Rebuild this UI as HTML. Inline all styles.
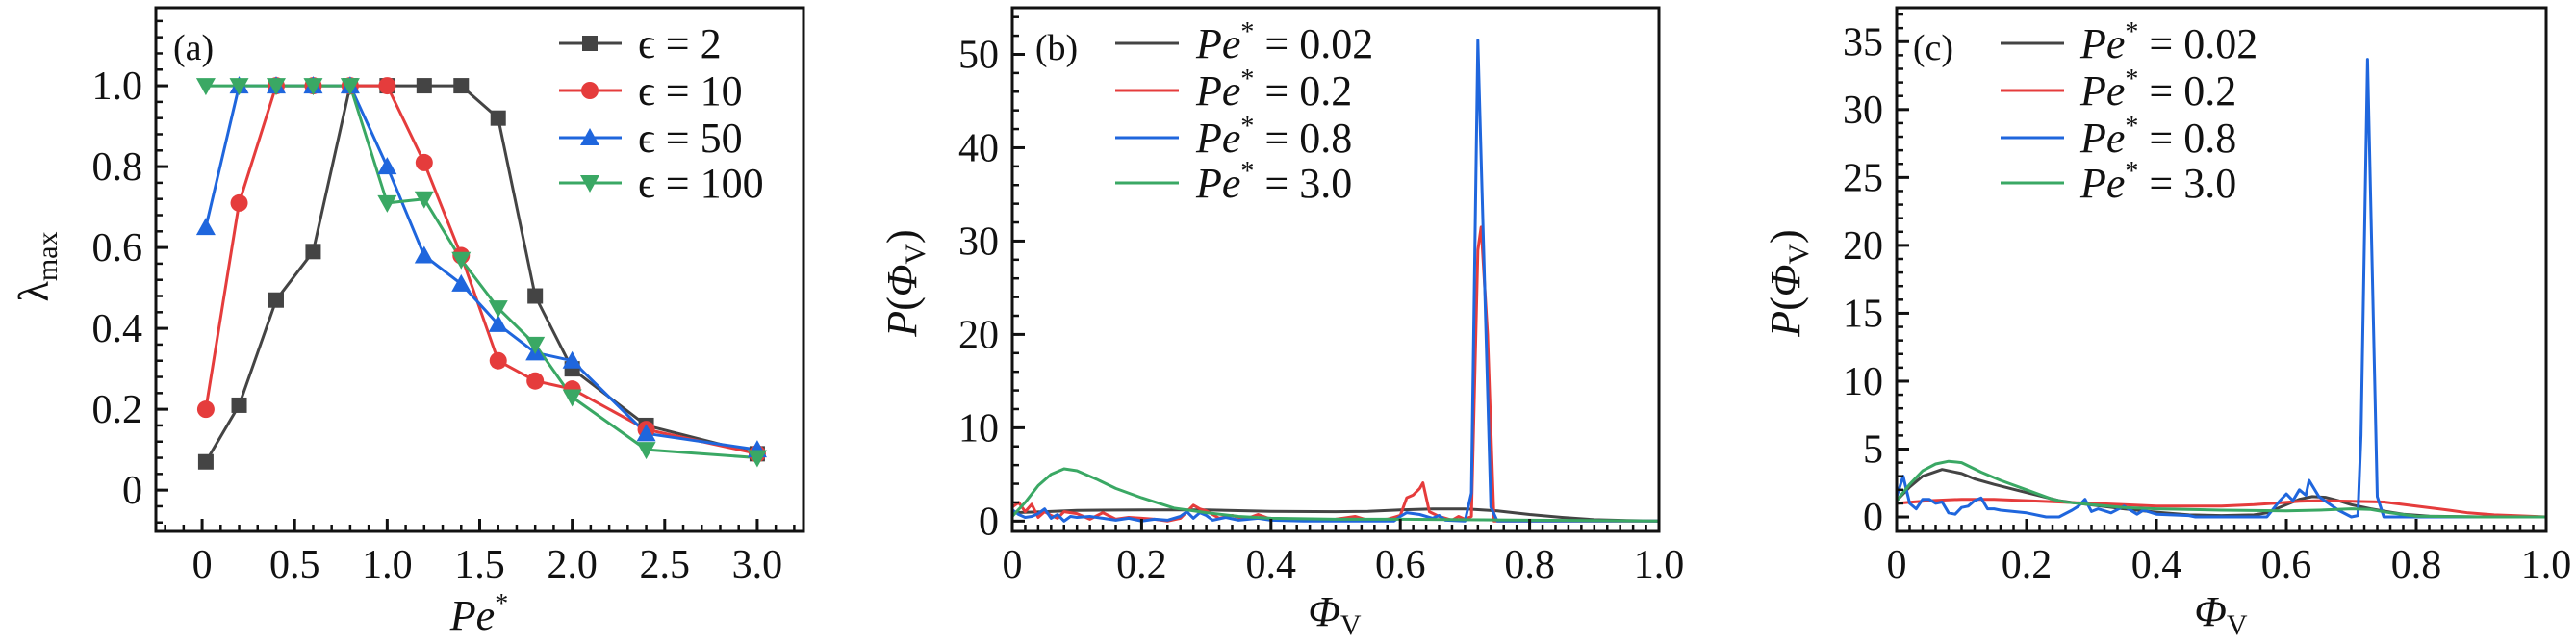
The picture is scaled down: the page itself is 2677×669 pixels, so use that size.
<!DOCTYPE html>
<html><head><meta charset="utf-8"><style>
html,body{margin:0;padding:0;background:#fff}
svg{display:block}
text{font-family:"Liberation Serif","DejaVu Serif",serif;fill:#111}
</style></head><body>
<svg id="fig" width="2677" height="669" viewBox="0 0 2677 669" xmlns="http://www.w3.org/2000/svg"></svg>
<script>
// ---------- Panel (a) data ----------
const aX = [0.02,0.2,0.4,0.6,0.8,1.0,1.2,1.4,1.6,1.8,2.0,2.4,3.0];
const aEps2 = [0.07,0.21,0.47,0.59,1.0,1.0,1.0,1.0,0.92,0.48,0.30,0.16,0.09];
const aEps10 = [0.20,0.71,1.0,1.0,1.0,1.0,0.81,0.58,0.32,0.27,0.25,0.15,0.09];
const aEps50 = [0.65,1.0,1.0,1.0,1.0,0.80,0.58,0.51,0.41,0.34,0.32,0.14,0.10];
const aEps100 = [1.0,1.0,1.0,1.0,1.0,0.71,0.72,0.57,0.45,0.36,0.23,0.10,0.08];
const aXTicks = [0,0.5,1.0,1.5,2.0,2.5,3.0];
const aXTickLabels = ["0","0.5","1.0","1.5","2.0","2.5","3.0"];
const aYTicks = [0,0.2,0.4,0.6,0.8,1.0];
const aYTickLabels = ["0","0.2","0.4","0.6","0.8","1.0"];
const aLegend = ["2","10","50","100"];

// ---------- Panel (b) data ----------
const bGrayX = [0,0.05,0.1,0.2,0.3,0.4,0.5,0.55,0.6,0.65,0.7,0.75,0.8,0.85,0.9,0.95,1.0];
const bGrayY = [0.9,1.0,1.15,1.2,1.2,1.05,1.0,1.05,1.2,1.3,1.3,1.1,0.7,0.4,0.15,0.05,0];
const bGreenX = [0,0.02,0.04,0.06,0.08,0.1,0.13,0.16,0.2,0.25,0.3,0.35,0.4,0.5,0.6,0.7,0.8,0.9,1.0];
const bGreenY = [0.5,2.0,3.8,5.0,5.6,5.4,4.5,3.5,2.5,1.4,0.9,0.5,0.3,0.2,0.2,0.15,0.1,0.05,0];
const bRedX = [0,0.01,0.02,0.03,0.04,0.05,0.06,0.07,0.08,0.1,0.12,0.14,0.16,0.18,0.2,0.22,0.24,0.26,0.28,0.29,0.3,0.32,0.34,0.36,0.38,0.4,0.45,0.5,0.53,0.55,0.58,0.6,0.61,0.62,0.63,0.635,0.645,0.66,0.68,0.69,0.7,0.71,0.72,0.725,0.735,0.745,0.76,0.8,0.9,1.0];
const bRedY = [1.5,2.0,1.0,1.8,0.4,1.0,0.6,0.3,1.0,0.8,0.2,0.9,0.2,0.4,0.3,0.2,0.0,0.3,1.7,1.3,1.1,0.3,0.6,0.2,0.7,0.2,0.1,0.2,0.5,0.1,0.2,0.6,2.5,2.8,3.5,4.1,1.0,0.5,0.1,0.5,0.2,0.5,29.0,31.5,20.0,0.0,0.0,0.0,0.0,0.0];
const bBlueX = [0,0.01,0.02,0.03,0.04,0.05,0.06,0.07,0.08,0.09,0.1,0.12,0.14,0.16,0.18,0.2,0.22,0.24,0.26,0.27,0.28,0.29,0.3,0.31,0.33,0.35,0.38,0.4,0.45,0.5,0.55,0.59,0.6,0.61,0.63,0.65,0.66,0.67,0.7,0.71,0.72,0.74,0.75,0.8,0.9,1.0];
const bBlueY = [1.2,0.7,0.4,0.5,0.8,1.3,0.3,0.7,0.0,0.5,0.4,0.5,0.3,0.1,0.3,0.0,0.2,0.1,0.5,1.0,0.3,0.9,0.6,0.1,0.4,0.1,0.3,0.1,0.0,0.0,0.0,0.0,0.5,0.9,0.7,0.3,0.6,0.1,0.0,3.0,51.5,1.5,0.0,0.0,0.0,0.0];
const bXTicks = [0,0.2,0.4,0.6,0.8,1.0];
const bXTickLabels = ["0","0.2","0.4","0.6","0.8","1.0"];
const bYTicks = [0,10,20,30,40,50];
const bYTickLabels = ["0","10","20","30","40","50"];

// ---------- Panel (c) data ----------
const cGrayX = [0,0.02,0.04,0.07,0.1,0.12,0.15,0.2,0.25,0.28,0.35,0.4,0.45,0.5,0.55,0.57,0.6,0.62,0.64,0.66,0.68,0.7,0.73,0.76,0.78,0.82,0.9,1.0];
const cGrayY = [1.2,2.2,3.0,3.5,3.2,2.8,2.4,1.8,1.2,1.0,0.6,0.35,0.15,0.1,0.15,0.3,0.9,1.3,1.5,1.45,1.2,0.9,0.6,0.35,0.2,0.05,0,0];
const cGreenX = [0,0.02,0.04,0.06,0.08,0.1,0.13,0.16,0.2,0.24,0.26,0.3,0.35,0.4,0.5,0.6,0.65,0.7,0.73,0.76,0.8,0.9,1.0];
const cGreenY = [1.2,2.4,3.4,3.9,4.1,4.0,3.3,2.7,2.0,1.3,1.1,0.9,0.7,0.6,0.5,0.45,0.5,0.6,0.55,0.3,0.05,0,0];
const cRedX = [0,0.05,0.1,0.15,0.2,0.25,0.3,0.35,0.4,0.45,0.5,0.55,0.58,0.62,0.65,0.7,0.75,0.8,0.85,0.88,0.92,0.95,1.0];
const cRedY = [1.0,1.2,1.3,1.3,1.2,1.1,1.0,0.9,0.8,0.8,0.8,0.9,1.0,1.15,1.2,1.15,1.1,0.8,0.5,0.3,0.15,0.1,0];
const cBlueX = [0,0.01,0.02,0.03,0.04,0.05,0.06,0.07,0.08,0.09,0.1,0.11,0.12,0.13,0.14,0.15,0.16,0.18,0.2,0.22,0.23,0.25,0.27,0.28,0.29,0.3,0.31,0.33,0.35,0.37,0.38,0.4,0.45,0.46,0.5,0.57,0.59,0.6,0.61,0.62,0.63,0.635,0.65,0.68,0.7,0.71,0.715,0.725,0.74,0.75,0.8,0.9,1.0];
const cBlueY = [1.5,3.0,1.0,0.6,1.3,1.3,1.0,1.1,0.3,0.2,0.7,0.8,1.2,1.4,0.6,0.6,0.5,0.4,0.3,0.1,0,0,0.5,0.8,1.3,0.4,0.6,0.3,0.8,0.2,0.5,0.2,0.1,0,0,0,1.2,1.7,1.2,2.0,1.6,2.7,1.5,0.5,0.0,0.1,6.0,33.7,1.5,0,0,0,0];
const cXTicks = [0,0.2,0.4,0.6,0.8,1.0];
const cXTickLabels = ["0","0.2","0.4","0.6","0.8","1.0"];
const cYTicks = [0,5,10,15,20,25,30,35];
const cYTickLabels = ["0","5","10","15","20","25","30","35"];
const peLegend = ["0.02","0.2","0.8","3.0"];

const COLORS = ["#444444","#e53c3c","#1f66dd","#3aa864"];
const NS = "http://www.w3.org/2000/svg";
const svg = document.getElementById("fig");

function mk(tag, attrs, parent){
  const e = document.createElementNS(NS, tag);
  for (const k in attrs) e.setAttribute(k, attrs[k]);
  (parent||svg).appendChild(e);
  return e;
}
function scale(d0,d1,r0,r1){ return v => r0 + (v-d0)/(d1-d0)*(r1-r0); }

function frame(g, L, T, R, B){
  const r = mk("rect",{x:L,y:T,width:R-L,height:B-T,fill:"none",stroke:"#111","stroke-width":3},g);
  
  
}
function ticks(g, sx, sy, L, B, xmin, xmax, xminor, ymin, ymax, yminor, xT, xL, yT, yL){
  for (let v = Math.ceil(xmin/xminor)*xminor; v <= xmax+1e-9; v += xminor){
    const x = sx(v);
    const t = mk("line",{x1:x,x2:x,y1:B,y2:B-7,stroke:"#111","stroke-width":2.5},g);
    
    
  }
  for (let v = Math.ceil(ymin/yminor)*yminor; v <= ymax+1e-9; v += yminor){
    const y = sy(v);
    const t = mk("line",{x1:L,x2:L+7,y1:y,y2:y,stroke:"#111","stroke-width":2.5},g);
    
    
  }
  xT.forEach((v,i)=>{
    const x = sx(v);
    const t = mk("line",{x1:x,x2:x,y1:B,y2:B-13,stroke:"#111","stroke-width":3},g);
    
    
    const tx = mk("text",{x:x,y:B+48,"font-size":42,"text-anchor":"middle"},g);
    tx.textContent = xL[i];
    
    
  });
  yT.forEach((v,i)=>{
    const y = sy(v);
    const t = mk("line",{x1:L,x2:L+13,y1:y,y2:y,stroke:"#111","stroke-width":3},g);
    
    
    const tx = mk("text",{x:L-14,y:y+14,"font-size":42,"text-anchor":"end"},g);
    tx.textContent = yL[i];
    
    
  });
}
function line(g, sx, sy, xs, ys, color, w, name){
  const d = xs.map((x,i)=>(i?"L":"M")+sx(x).toFixed(1)+","+sy(ys[i]).toFixed(1)).join("");
  const p = mk("path",{d:d,fill:"none",stroke:color,"stroke-width":w,"stroke-linejoin":"round"},g);
  
  
  return p;
}
function marker(g, kind, x, y, color){
  let m;
  const s = 8;
  if (kind===0) m = mk("rect",{x:x-s,y:y-s,width:2*s,height:2*s,fill:color},g);
  else if (kind===1) m = mk("circle",{cx:x,cy:y,r:9,fill:color},g);
  else if (kind===2) m = mk("polygon",{points:`${x},${y-10} ${x+10},${y+8} ${x-10},${y+8}`,fill:color},g);
  else m = mk("polygon",{points:`${x},${y+10} ${x+10},${y-8} ${x-10},${y-8}`,fill:color},g);
  
  
  return m;
}

// ===== Panel (a) =====
(function(){
  const g = mk("g",{});
  
  
  const L=162,R=835,T=8,B=552;
  const sx = scale(-0.25,3.25,L,R), sy = scale(-0.102,1.193,B,T);
  const series = [aEps2,aEps10,aEps50,aEps100];
  series.forEach((ys,k)=>{
    line(g,sx,sy,aX,ys,COLORS[k],3,"series-eps-"+aLegend[k]);
  });
  series.forEach((ys,k)=>{
    aX.forEach((x,i)=>marker(g,k,sx(x),sy(ys[i]),COLORS[k]));
  });
  frame(g,L,T,R,B);
  ticks(g,sx,sy,L,B,-0.2,3.2,0.1,-0.08,1.19,0.04,aXTicks,aXTickLabels,aYTicks,aYTickLabels);
  const lab = mk("text",{x:180,y:62,"font-size":38},g);
  lab.textContent="(a)";
  
  
  const rows=[45,94,143,190];
  aLegend.forEach((v,k)=>{
    const lg = mk("g",{},g);
    
    
    mk("line",{x1:581,x2:646,y1:rows[k],y2:rows[k],stroke:COLORS[k],"stroke-width":3},lg);
    marker(lg,k,613,rows[k],COLORS[k]);
    const t = mk("text",{x:663,y:rows[k]+15,"font-size":44},lg);
    t.textContent = "ϵ = "+v;
  });
  const yl = mk("text",{x:0,y:0,"font-size":44,transform:"translate(50,277) rotate(-90)","text-anchor":"middle"},g);
  yl.innerHTML = 'λ<tspan font-size="30" dy="9">max</tspan>';
  
  
  const xl = mk("text",{x:498,y:654,"font-size":44,"text-anchor":"middle"},g);
  xl.innerHTML = '<tspan font-style="italic">Pe</tspan><tspan font-size="28" dy="-18">*</tspan>';
  
  
})();

function distPanel(name, L, R, ymin, ymax, yminor, yT, yL, data, lab, labX, legX, txtX, ylabX, xlabX){
  const g = mk("g",{});
  
  
  const T=8,B=552;
  const sx = scale(0,1,L,R), sy = scale(ymin,ymax,B,T);
  data.forEach((s,k)=>line(g,sx,sy,s[0],s[1],COLORS[k],3,"series-pe-"+peLegend[k]));
  frame(g,L,T,R,B);
  ticks(g,sx,sy,L,B,0,1,0.02,0,ymax,yminor,bXTicks,bXTickLabels,yT,yL);
  const t = mk("text",{x:labX,y:62,"font-size":38,"text-anchor":"middle"},g);
  t.textContent = lab;
  
  
  const rows=[45,94,143,190];
  peLegend.forEach((v,k)=>{
    const lg = mk("g",{},g);
    
    
    mk("line",{x1:legX,x2:legX+66,y1:rows[k],y2:rows[k],stroke:COLORS[k],"stroke-width":3},lg);
    const tx = mk("text",{x:txtX,y:rows[k]+15,"font-size":44},lg);
    tx.innerHTML = '<tspan font-style="italic">Pe</tspan><tspan font-size="28" dy="-18">*</tspan><tspan dy="18"> = '+v+'</tspan>';
  });
  const yl = mk("text",{x:0,y:0,"font-size":44,transform:`translate(${ylabX},294) rotate(-90)`,"text-anchor":"middle"},g);
  yl.innerHTML = '<tspan font-style="italic">P</tspan>(<tspan font-style="italic">Φ</tspan><tspan font-size="30" dy="9">V</tspan><tspan dy="-9">)</tspan>';
  
  
  const xl = mk("text",{x:xlabX,y:650,"font-size":44,"text-anchor":"middle"},g);
  xl.innerHTML = '<tspan font-style="italic">Φ</tspan><tspan font-size="30" dy="9">V</tspan>';
  
  
}

distPanel("panel-b",1052,1724,-1.1,55,2,bYTicks,bYTickLabels,
  [[bGrayX,bGrayY],[bRedX,bRedY],[bBlueX,bBlueY],[bGreenX,bGreenY]],
  "(b)",1098,1159,1243,952,1387);
distPanel("panel-c",1971,2646,-1.06,37.5,1,cYTicks,cYTickLabels,
  [[cGrayX,cGrayY],[cRedX,cRedY],[cBlueX,cBlueY],[cGreenX,cGreenY]],
  "(c)",2009,2079,2162,1870,2308);
</script>
</body></html>
